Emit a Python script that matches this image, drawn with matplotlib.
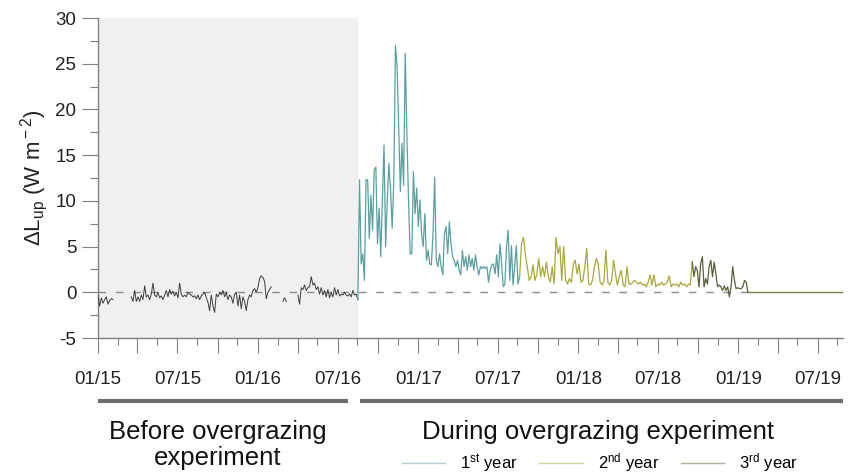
import numpy as np
import pandas as pd
import matplotlib
matplotlib.use("Agg")
import matplotlib.pyplot as plt
import matplotlib.dates as mdates
from matplotlib.lines import Line2D

plt.rcParams['font.family'] = ['Liberation Sans', 'DejaVu Sans']
plt.rcParams['mathtext.fontset'] = 'custom'
plt.rcParams['mathtext.rm'] = 'Liberation Sans'
plt.rcParams['mathtext.it'] = 'Liberation Sans:italic'
plt.rcParams['axes.unicode_minus'] = False

# ---- data (W m-2) ----
nan = np.nan
pre_start, pre_end = "2015-01-01", "2016-08-16"
pre_vals = [
    -0.3, -1.5, -0.6, -1.2, -0.8, -0.5, -1.3, -0.9, -0.7, -0.8,
    nan, nan, nan, nan, nan, nan, nan, nan, nan, nan,
    -0.5, -1.0, 0.2, -1.0, -0.5, -1.0, -0.3, -0.8, 0.7, -0.5,
    -0.3, -0.8, -0.2, 1.0, -0.3, -0.5, 0.0, -0.6, -0.4, -0.8,
    -0.3, 0.2, -0.5, 0.3, -0.2, 0.1, -0.4, 0.0, -0.6, 1.0,
    -0.2, -0.5, -0.3, -0.5, 0.0, -0.2, -0.3, -0.5, -0.4, -0.7,
    -0.3, -0.8, -0.4, -0.2, 0.0, -0.6, -1.1, -2.0, -0.3, -1.5,
    -2.2, -0.2, -0.5, 0.0, -0.3, 0.2, -0.5, 0.0, -0.8, -0.3,
    -0.5, -1.2, -0.2, 0.0, -1.5, -0.3, -1.8, -0.5, -1.0, -2.0,
    -0.8, -0.3, -0.5, 0.2, 0.4, 0.0, 0.5, 1.5, 1.8, 1.6,
    1.2, -0.7, 0.0, 0.3, 0.6,
    nan, nan, nan, nan, nan, nan,
    -1.0, -0.6, -1.0,
    nan, nan, nan, nan, nan, nan,
    -0.3, -1.3, 0.5, 0.3, 0.8, 0.2, 0.5, 0.6, 1.7, 0.8,
    1.0, 0.3, 0.6, -0.2, 0.5, -0.3, 0.2, -0.5, 0.3, -0.6,
    0.0, -0.5, 0.5, -0.3, 0.3, -0.4, -0.2, -0.3, 0.0, -0.3,
    -0.4, -0.2, -0.5, 0.2, -0.3, -0.2, -0.8,
]

y1_start, y1_end = "2016-08-16", "2017-08-20"
year1_vals = [
    -0.8, 12.3, 3.1, 4.2, 1.3, 12.3, 12.3, 5.9, 10.6, 6.8,
    13.4, 13.7, 5.3, 9.2, 3.9, 10.1, 16.1, 5.0, 10.1, 14.1,
    11.2, 7.0, 12.3, 27.0, 24.7, 18.1, 11.0, 16.3, 11.7, 26.1,
    17.4, 10.1, 4.2, 4.2, 13.2, 8.6, 11.4, 7.2, 10.1, 6.4,
    5.0, 8.6, 3.5, 4.6, 3.1, 3.0, 6.4, 12.6, 3.5, 2.8,
    4.2, 2.8, 1.9, 6.4, 7.2, 4.2, 7.7, 5.3, 3.9, 3.5,
    2.8, 3.5, 2.4, 1.9, 4.6, 2.8, 3.9, 2.4, 4.1, 2.8,
    3.7, 2.4, 4.1, 2.8, 1.9, 2.8, 2.6, 2.8, 2.6, 2.8,
    1.1, 2.4, 3.0, 3.1, 2.0, 4.1, 1.7, 5.3, 3.1, 0.6,
    0.9, 5.0, 6.8, 1.3, 5.1, 0.8, 2.8, 5.1, 0.9, 1.7,
]

y2_start, y2_end = "2017-08-20", "2018-09-18"
year2_vals = [
    1.7, 5.3, 6.0, 4.2, 2.8, 1.3, 1.7, 3.0, 1.3, 2.0,
    3.7, 1.7, 2.8, 1.7, 3.3, 1.7, 1.1, 2.8, 0.9, 6.0,
    4.2, 5.0, 1.3, 5.0, 1.3, 0.9, 1.5, 1.1, 3.1, 3.5,
    2.0, 3.1, 1.1, 1.3, 2.8, 4.8, 0.9, 0.8, 1.3, 2.8,
    3.7, 3.1, 1.1, 0.8, 1.3, 4.6, 1.1, 0.8, 1.3, 3.5,
    2.0, 0.8, 1.7, 2.4, 0.8, 0.6, 2.8, 0.9, 0.9, 1.1,
    1.3, 1.1, 0.9, 1.1, 0.8, 0.9, 0.6, 1.1, 1.9, 0.8,
    1.9, 0.6, 0.9, 0.8, 1.1, 0.8, 0.9, 1.1, 1.8, 0.6,
    0.9, 0.8, 0.9, 0.6, 1.1, 0.8, 0.9, 0.6, 0.9, 0.8,
    3.3,
]

y3_start, y3_end = "2018-09-18", "2019-01-23"
year3_vals = [
    3.3, 1.7, 2.8, 2.4, 0.6, 3.1, 3.9, 0.6, 1.5, 0.9,
    2.8, 3.5, 1.7, 3.3, 2.0, 0.6, 0.8, 0.6, 0.2, 0.7,
    0.2, 0.6, -0.5, 0.6, 2.8, 1.3, 0.4, 0.5, 0.4, 0.4,
    0.6, 1.3, 1.1, 0.0,
]

tail_dates = ["2019-01-23", "2019-08-28"]
tail_vals = [0.0, 0.0]

x_min, x_max = "2015-01-01", "2019-08-28"
bar_before = ("2015-01-01", "2016-07-24")
bar_during = ("2016-08-20", "2019-08-28")

c_pre = '#3c3c3c'
c_y1 = '#5b9fa1'
c_y2 = '#a9a83a'
c_y3 = '#5f5e3c'

fig = plt.figure(figsize=(8.51, 4.75), dpi=100)
ax = fig.add_axes([98 / 851, 1 - 338 / 475, 745 / 851, 320 / 475])

def dates(a, b, n):
    return pd.date_range(a, b, periods=n)

ax.axvspan(pd.Timestamp(pre_start), pd.Timestamp(pre_end), color='#f0f0f0', zorder=0, lw=0)
ax.plot([pd.Timestamp(x_min), pd.Timestamp(y3_end)], [0, 0], color='#8c8c8c', lw=1.0,
        dashes=(5.5, 7), zorder=1)

ax.plot(dates(pre_start, pre_end, len(pre_vals)), pre_vals, color=c_pre, lw=0.7, zorder=3)
ax.plot(dates(y1_start, y1_end, len(year1_vals)), year1_vals, color=c_y1, lw=0.9, zorder=3)
ax.plot(dates(y2_start, y2_end, len(year2_vals)), year2_vals, color=c_y2, lw=0.9, zorder=3)
ax.plot(dates(y3_start, y3_end, len(year3_vals)), year3_vals, color=c_y3, lw=0.9, zorder=3)
ax.plot(pd.to_datetime(tail_dates), tail_vals, color='#7d7c4c', lw=1.0, zorder=3)

ax.set_xlim(pd.Timestamp(x_min), pd.Timestamp(x_max))
ax.set_ylim(-5, 30)

# axes styling
for s in ['top', 'right']:
    ax.spines[s].set_visible(False)
for s in ['left', 'bottom']:
    ax.spines[s].set_color('#808080')
    ax.spines[s].set_linewidth(1.0)

ax.set_yticks(np.arange(-5, 31, 5))
ax.set_yticks(np.arange(-2.5, 30, 5), minor=True)
ax.tick_params(axis='y', which='major', length=11.5, width=0.8, color='#808080',
               labelsize=13.5, pad=4, labelcolor='#222222')
ax.tick_params(axis='y', which='minor', length=5.5, width=0.8, color='#808080')

ax.xaxis.set_major_locator(mdates.MonthLocator(bymonth=[1, 4, 7, 10]))
ax.xaxis.set_minor_locator(mdates.MonthLocator(bymonth=[2, 5, 8, 11], bymonthday=15))

def fmt(x, pos):
    d = mdates.num2date(x)
    return d.strftime('%m/%y') if d.month in (1, 7) else ''

ax.xaxis.set_major_formatter(plt.FuncFormatter(fmt))
ax.tick_params(axis='x', which='major', length=11, width=0.8, color='#808080',
               labelsize=13.5, pad=13, labelcolor='#222222')
ax.tick_params(axis='x', which='minor', length=5, width=0.8, color='#808080')

ax.set_ylabel(r'$\Delta$L$_{\rm up}$ (W m$^{\rm -2}$)', fontsize=16, color='#222222', labelpad=4)

# period bars and captions below the axis
tr = ax.get_xaxis_transform()
for a, b in (bar_before, bar_during):
    ax.plot([pd.Timestamp(a), pd.Timestamp(b)], [-0.197, -0.197], transform=tr,
            color='#6e6e6e', lw=3, solid_capstyle='butt', clip_on=False)

ax.text(pd.Timestamp("2015-10-01"), -0.255, 'Before overgrazing\nexperiment', transform=tr,
        ha='center', va='top', fontsize=18.5, color='#111111', linespacing=1.1)
ax.text(pd.Timestamp("2018-02-15"), -0.255, 'During overgrazing experiment', transform=tr,
        ha='center', va='top', fontsize=18.5, color='#111111')

handles = [Line2D([], [], color=c, lw=1.0, alpha=0.5) for c in (c_y1, c_y2, c_y3)]
labels = ['1$^{\\rm st}$ year', '2$^{\\rm nd}$ year', '3$^{\\rm rd}$ year']
fig.legend(handles, labels, loc='center', bbox_to_anchor=(600 / 851, 1 - 463 / 475),
           ncol=3, frameon=False, fontsize=12, handlelength=2.6, handletextpad=0.9,
           columnspacing=1.3, borderpad=0, borderaxespad=0)

fig.savefig('out.png', dpi=100)
